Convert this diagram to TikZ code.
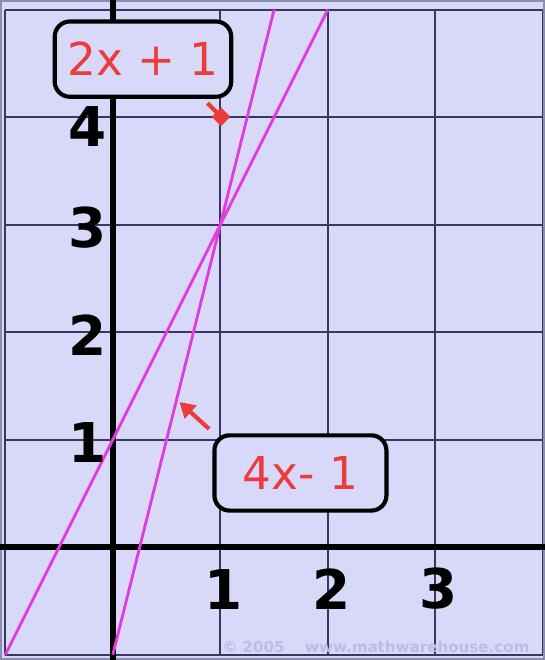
\documentclass[tikz,border=0pt]{standalone}
\usepackage{fontspec}
\setmainfont{DejaVu Sans}
\usetikzlibrary{positioning,arrows.meta}
\definecolor{paper}{RGB}{216,216,248}
\definecolor{gridcol}{RGB}{55,55,95}
\definecolor{framecol}{RGB}{140,140,175}
\definecolor{plotline}{RGB}{225,60,225}
\definecolor{lblred}{RGB}{235,60,60}
\definecolor{wmark}{RGB}{188,188,232}

\begin{document}
\begin{tikzpicture}[
    num/.style={font=\fontsize{14.5}{16}\selectfont\bfseries,inner sep=0pt},
    lbl/.style={draw,line width=1.1pt,rounded corners=4pt,fill=paper,text=lblred,minimum width=1.6cm,minimum height=0.7cm,font=\fontsize{12}{14}\selectfont},
    redarr/.style={lblred,line width=1.1pt},
    fn/.style={plotline,line width=0.75pt}
  ]
    % paper + bounding box
    \fill[paper] (-1.05,-1.05) rectangle (4.02,5.09);
    \useasboundingbox (-1.05,-1.05) rectangle (4.02,5.09);

    % grid and frame
    \draw[gridcol,line width=0.5pt] (-1,-1) grid (4,5);
    \draw[framecol,line width=1.2pt] (-1.05,-1.05) rectangle (4.02,5.09);

    % axes
    \draw[line width=1.4pt] (-1.05,0) -- (4.02,0);
    \draw[line width=1.4pt] (0,-1.05) -- (0,5.09);

    % the two lines
    \draw[fn] (-1,-1) -- (2,5);
    \draw[fn] (0,-1) -- (1.5,5);

    % axis numbers
    \foreach \k in {1,2,3} \node[num] (x\k) at (\k+0.03,-0.39) {\k};
    \foreach \k in {1,2,3} \node[num] (y\k) at (-0.24,\k-0.03) {\k};
    \node[num] (y4) at (-0.24,3.91) {4};

    % labels
    \node[lbl] (eqA) at (0.28,4.54) {2x + 1};
    \node[lbl] (eqB) at (1.745,0.69) {4x- 1};
    \coordinate (tipA) at (1.05,3.96);
    \coordinate (tipB) at (0.62,1.35);
    \draw[redarr,-{Square[length=3.5pt,width=3.5pt]}] ([xshift=-0.24cm,yshift=-0.04cm]eqA.south east) -- (tipA);
    \draw[redarr,-{Triangle[length=4pt,width=4.5pt]}] ([shift={(-0.03,0.04)}]eqB.north west) -- (tipB);

    % watermark
    \node[font=\fontsize{4}{5}\selectfont\bfseries,text=wmark,anchor=east] (wm) at (4.0,-0.93) {© 2005 \quad www.mathwarehouse.com};
  \end{tikzpicture}
\end{document}
